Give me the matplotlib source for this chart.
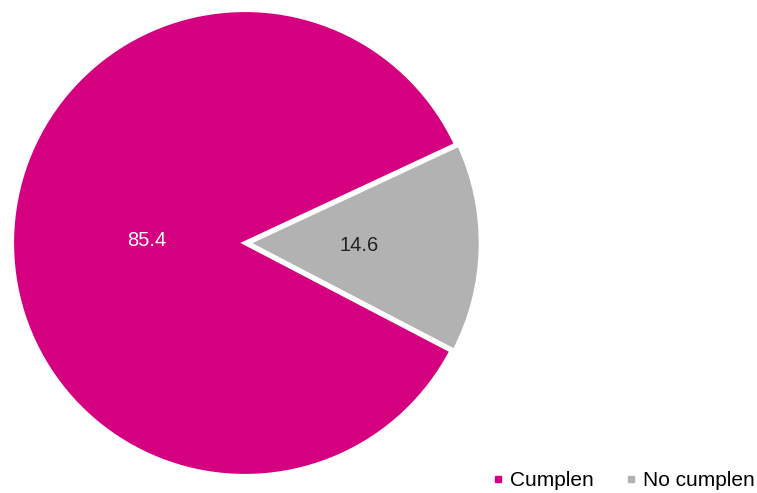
import matplotlib
matplotlib.use("Agg")
import matplotlib.pyplot as plt
import numpy as np

plt.rcParams['font.family'] = ['Liberation Sans', 'DejaVu Sans']

categories = ["Cumplen", "No cumplen"]
values = [85.4, 14.6]
labels = ["85.4", "14.6"]
colors = ["#D5007F", "#B2B2B2"]
label_colors = ["white", "#222222"]
label_dist = [0.42, 0.49]

W, H = 757, 493
fig = plt.figure(figsize=(W/100, H/100), dpi=100)
cx, cy, r = 245, 243, 233
ax = fig.add_axes([(cx - r)/W, (H - cy - r)/H, 2*r/W, 2*r/H])

wedges, _ = ax.pie(values, colors=colors, startangle=25, counterclock=True,
                   explode=[0, 0.012], radius=1.0,
                   wedgeprops=dict(edgecolor="white", linewidth=3))
ax.set_xlim(-1, 1)
ax.set_ylim(-1, 1)
ax.set_aspect('equal')
ax.axis('off')

for w, lab, col, d in zip(wedges, labels, label_colors, label_dist):
    ang = np.deg2rad((w.theta1 + w.theta2) / 2)
    ax.text(d*np.cos(ang), d*np.sin(ang), lab, ha='center', va='center',
            color=col, fontsize=14.5)

handles = [plt.Line2D([], [], marker='s', linestyle='none', markersize=5,
                      markerfacecolor=c, markeredgecolor=c) for c in colors]
fig.legend(handles, categories, loc='lower right', bbox_to_anchor=(1.0, 0.002),
           ncol=2, frameon=False, fontsize=15, handlelength=0.5,
           handletextpad=0.35, columnspacing=1.5, borderaxespad=0.0,
           borderpad=0.1)

fig.savefig("out.png", dpi=100)
